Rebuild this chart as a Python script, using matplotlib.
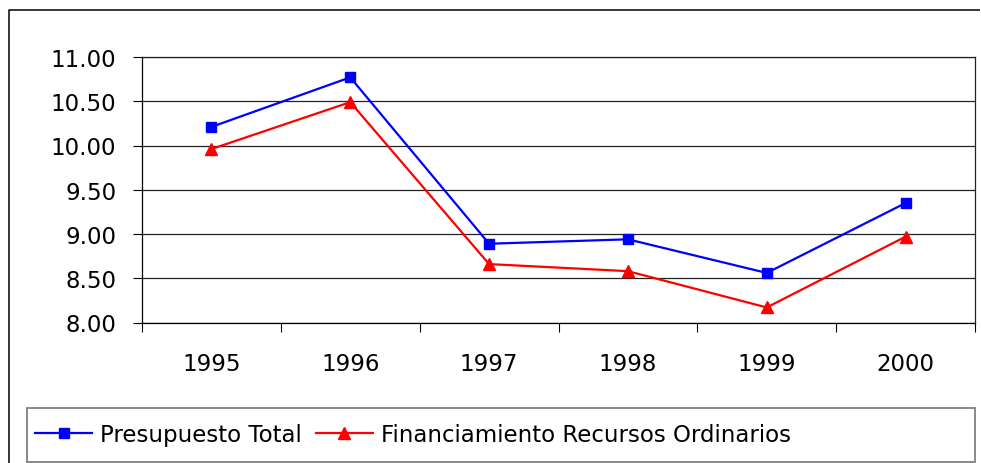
import matplotlib
matplotlib.use("Agg")
import matplotlib.pyplot as plt
from matplotlib.patches import Rectangle
from matplotlib.lines import Line2D

years = ["1995", "1996", "1997", "1998", "1999", "2000"]
presupuesto_total = [10.21, 10.77, 8.89, 8.94, 8.56, 9.35]
recursos_ordinarios = [9.96, 10.49, 8.66, 8.58, 8.17, 8.97]
y_ticks = [8.0, 8.5, 9.0, 9.5, 10.0, 10.5, 11.0]

W, H = 981, 464
fig = plt.figure(figsize=(W / 100, H / 100), dpi=100)
plt.rcParams['font.family'] = ['DejaVu Sans']
fs = 16.5

# outer chart border: only left and top edges fall inside the image
fig.add_artist(Line2D([9 / W, 9 / W, 979.5 / W], [0.0, 1 - 11 / H, 1 - 11 / H],
                      transform=fig.transFigure, color='black', linewidth=1.1,
                      solid_capstyle='butt'))

ax = fig.add_axes([142 / W, 1 - 323.5 / H, (975 - 142) / W, (323.5 - 58) / H])
x = list(range(len(years)))
ax.plot(x, presupuesto_total, color='#0000FF', linewidth=1.6, marker='s',
        markersize=7, label='Presupuesto Total')
ax.plot(x, recursos_ordinarios, color='#FF0000', linewidth=1.6, marker='^',
        markersize=8.5, label='Financiamiento Recursos Ordinarios')

ax.set_xlim(-0.5, len(years) - 0.5)
ax.set_ylim(8.0, 11.0)
ax.set_yticks(y_ticks)
ax.set_yticklabels([f"{v:.2f}" for v in y_ticks], fontsize=fs)
ax.yaxis.grid(True, color='#222222', linewidth=0.9)
ax.set_axisbelow(True)

ax.set_xticks([i - 0.5 for i in range(len(years) + 1)])
ax.set_xticklabels([])
ax.set_xticks(x, minor=True)
ax.set_xticklabels(years, minor=True, fontsize=fs)
ax.tick_params(axis='x', which='major', direction='out', length=6.5, width=0.8)
ax.tick_params(axis='x', which='minor', length=0, pad=21)
ax.tick_params(axis='y', direction='out', length=6.5, width=0.8, pad=12)

for s in ax.spines.values():
    s.set_color('#222222')
    s.set_linewidth(0.9)
ax.spines['left'].set_color('black')
ax.spines['bottom'].set_color('black')

# legend box
fig.patches.append(Rectangle((27 / W, 1 - 463 / H), (975 - 27) / W, (463 - 409) / H,
                             transform=fig.transFigure, fill=False,
                             edgecolor='#808080', linewidth=1.3))
fig.legend(loc='center left', bbox_to_anchor=(35 / W, 1 - 436 / H), ncol=2,
           frameon=False, fontsize=fs, handlelength=2.5, handletextpad=0.35,
           columnspacing=0.6, borderpad=0, borderaxespad=0)

fig.savefig("out.png", dpi=100)
